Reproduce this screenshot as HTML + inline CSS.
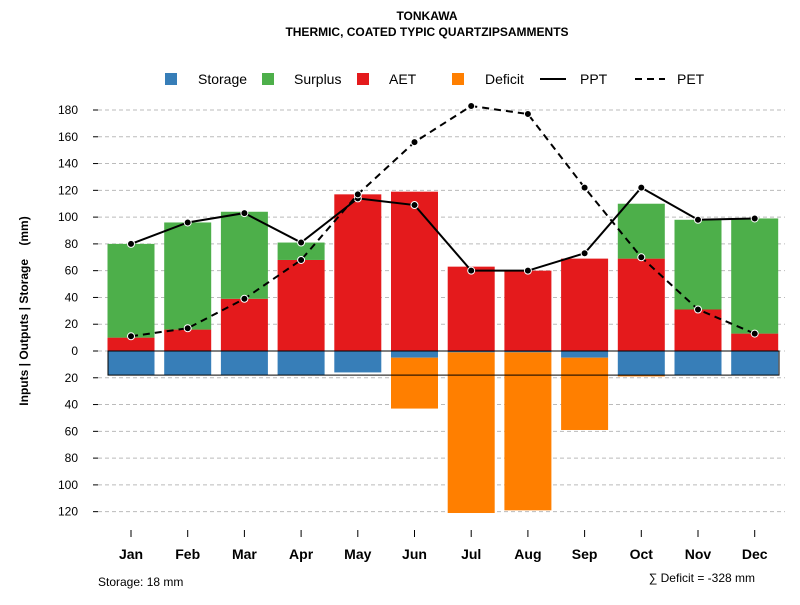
<!DOCTYPE html>
<html><head><meta charset="utf-8"><style>
body{margin:0;background:#fff;font-family:"Liberation Sans",sans-serif}
svg text{font-family:"Liberation Sans",sans-serif}
</style></head><body>
<svg id="c" width="800" height="600">
<text x="427" y="20" font-size="12" font-weight="bold" text-anchor="middle">TONKAWA</text>
<text x="427" y="36" font-size="12" font-weight="bold" text-anchor="middle">THERMIC, COATED TYPIC QUARTZIPSAMMENTS</text>
<g id="grid"></g><g id="bars"></g><g id="lines"></g><g id="axes"></g>
<g font-size="14">
<rect x="165" y="73" width="12" height="12" fill="#377eb8"/><text x="198" y="84">Storage</text>
<rect x="262" y="73" width="12" height="12" fill="#4daf4a"/><text x="294" y="84">Surplus</text>
<rect x="357" y="73" width="12" height="12" fill="#e41a1c"/><text x="389" y="84">AET</text>
<rect x="452" y="73" width="12" height="12" fill="#ff7f00"/><text x="485" y="84">Deficit</text>
<line x1="540" y1="79" x2="566" y2="79" stroke="#000" stroke-width="2"/><text x="580" y="84">PPT</text>
<line x1="635" y1="79" x2="665" y2="79" stroke="#000" stroke-width="2" stroke-dasharray="7,5"/><text x="677" y="84">PET</text>
</g>
<text transform="translate(28,311) rotate(-90)" font-size="12" font-weight="bold" text-anchor="middle" style="white-space:pre">Inputs | Outputs | Storage    (mm)</text>
<text x="98" y="586" font-size="12">Storage: 18 mm</text>
<text x="755" y="582" font-size="12" text-anchor="end">∑ Deficit = -328 mm</text>
</svg>
<script>
const months=["Jan","Feb","Mar","Apr","May","Jun","Jul","Aug","Sep","Oct","Nov","Dec"];
const ppt=[80,96,103,81,114,109,60,60,73,122,98,99];
const pet=[11,17,39,68,117,156,183,177,122,70,31,13];
const aet=[10,16,39,68,117,119,63,60,69,69,31,13];
const surplus=[70,80,65,13,0,0,0,0,0,41,67,86];
const storage=[18,18,18,18,16,5,1,1,5,18,18,18];
const deficit=[0,0,0,0,0,38,120,118,54,1,0,0];
const yTicks=[-120,-100,-80,-60,-40,-20,0,20,40,60,80,100,120,140,160,180];
const capacity=18;
const NS="http://www.w3.org/2000/svg";
const y=v=>351-v*(241/180);
const x=i=>131+i*56.7;
const bw=47;
function mk(p,t,a){const e=document.createElementNS(NS,t);for(const k in a)e.setAttribute(k,a[k]);p.appendChild(e);return e;}
const G=document.getElementById('grid'),B=document.getElementById('bars'),L=document.getElementById('lines'),A=document.getElementById('axes');
yTicks.forEach(v=>{
 const g=mk(G,'line',{x1:98,x2:785,y1:y(v),y2:y(v),stroke:'#bbb','stroke-dasharray':'4,3'});
 
 
 const t=mk(A,'line',{x1:93,x2:98,y1:y(v),y2:y(v),stroke:'#000'});
 
 
 const l=mk(A,'text',{x:78,y:y(v)+4,'font-size':12,'text-anchor':'end'});l.textContent=Math.abs(v);
 
 
});
months.forEach((m,i)=>{
 const cx=x(i),x0=cx-bw/2;
 const r1=mk(B,'rect',{x:x0,y:y(aet[i]),width:bw,height:y(0)-y(aet[i]),fill:'#e41a1c'});
 
 
 if(surplus[i]>0){const r=mk(B,'rect',{x:x0,y:y(aet[i]+surplus[i]),width:bw,height:y(aet[i])-y(aet[i]+surplus[i]),fill:'#4daf4a'});
 
 }
 const r2=mk(B,'rect',{x:x0,y:y(0),width:bw,height:y(-storage[i])-y(0),fill:'#377eb8'});
 
 
 if(deficit[i]>0){const r=mk(B,'rect',{x:x0,y:y(-storage[i]),width:bw,height:y(-storage[i]-deficit[i])-y(-storage[i]),fill:'#ff7f00'});
 
 }
 const t=mk(A,'line',{x1:cx,x2:cx,y1:530,y2:537,stroke:'#000'});
 
 
 const l=mk(A,'text',{x:cx,y:559,'font-size':14,'font-weight':'bold','text-anchor':'middle'});l.textContent=m;
 
 
});
const box=mk(B,'rect',{x:108,y:y(0),width:671,height:y(-capacity)-y(0),fill:'none',stroke:'#000'});


function series(arr,dash,name){
 const pl=mk(L,'polyline',{points:arr.map((v,i)=>x(i)+','+y(v)).join(' '),fill:'none',stroke:'#000','stroke-width':2,'stroke-dasharray':dash});
 
 
 arr.forEach((v,i)=>{const c=mk(L,'circle',{cx:x(i),cy:y(v),r:3.5,fill:'#000',stroke:'#fff','stroke-width':1});
 
 });
}
series(ppt,'none','ppt');
series(pet,'7,5','pet');
</script>
</body></html>
